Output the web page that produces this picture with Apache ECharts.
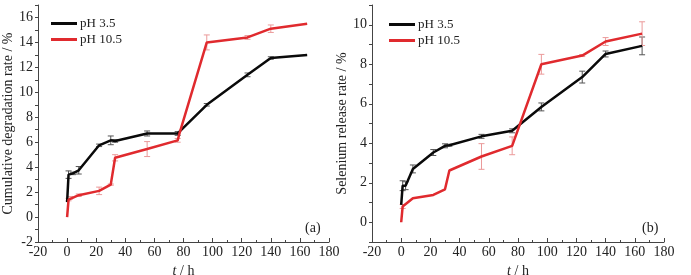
<!DOCTYPE html>
<html>
<head>
<meta charset="utf-8">
<script src="https://cdn.jsdelivr.net/npm/echarts@6/dist/echarts.min.js"></script>
<style>
  html, body { margin: 0; padding: 0; background: #fff; }
  #main { width: 691px; height: 275px; }
</style>
</head>
<body>
<div id="main"></div>
<script>
// (a) cumulative degradation rate
var t_a = [0, 1, 4, 8, 22, 30, 33, 55, 76, 96, 124, 140, 165];
var a_ph35 = [1.2, 3.4, 3.5, 3.75, 5.75, 6.15, 6.1, 6.7, 6.7, 9.0, 11.4, 12.75, 13.0];
var a_ph35_err = [0, 0.3, 0.1, 0.3, 0.1, 0.35, 0.1, 0.2, 0.15, 0.1, 0.15, 0.1, 0];
var t_a_red = [0, 1, 2, 8, 22, 30, 33, 55, 76, 77, 96, 124, 140, 165];
var a_ph105 = [0, 1.4, 1.55, 1.75, 2.1, 2.6, 4.75, 5.45, 6.15, 6.6, 14.0, 14.4, 15.1, 15.5];
var a_ph105_err = [0, 0.1, 0.1, 0.1, 0.3, 0.05, 0.25, 0.6, 0.15, 0, 0.6, 0.15, 0.3, 0];

// (b) selenium release rate
var t_b = [0, 1, 3, 8, 22, 30, 33, 55, 76, 96, 124, 140, 165];
var b_ph35 = [0.88, 1.85, 1.85, 2.7, 3.53, 3.87, 3.9, 4.35, 4.63, 5.84, 7.35, 8.52, 8.93];
var b_ph35_err = [0, 0.25, 0.2, 0.2, 0.15, 0.1, 0.05, 0.1, 0.1, 0.2, 0.3, 0.15, 0.45];
var t_b_red = [0, 1, 8, 22, 30, 33, 55, 76, 96, 124, 140, 165];
var b_ph105 = [0, 0.8, 1.22, 1.38, 1.67, 2.62, 3.33, 3.87, 8.0, 8.44, 9.15, 9.55];
var b_ph105_err = [0, 0.1, 0, 0, 0, 0, 0.65, 0.45, 0.5, 0.05, 0.2, 0.6];

var xTicks = { min: -20, max: 180, interval: 20 };

var chart = echarts.init(document.getElementById('main'));
var font = "'Liberation Serif', 'Times New Roman', serif";

function pairs(t, v) {
  var out = [];
  for (var i = 0; i < t.length; i++) out.push([t[i], v[i]]);
  return out;
}
function errData(t, v, e) {
  var out = [];
  for (var i = 0; i < t.length; i++) if (e[i] > 0) out.push([t[i], v[i] - e[i], v[i] + e[i]]);
  return out;
}
function errSeries(idx, data, color) {
  return {
    type: 'custom', xAxisIndex: idx, yAxisIndex: idx, silent: true, z: 1,
    data: data,
    renderItem: function (params, api) {
      var lo = api.coord([api.value(0), api.value(1)]);
      var hi = api.coord([api.value(0), api.value(2)]);
      var w = 3;
      var st = { stroke: color, lineWidth: 1 };
      return {
        type: 'group',
        children: [
          { type: 'line', shape: { x1: lo[0], y1: lo[1], x2: hi[0], y2: hi[1] }, style: st },
          { type: 'line', shape: { x1: lo[0] - w, y1: lo[1], x2: lo[0] + w, y2: lo[1] }, style: st },
          { type: 'line', shape: { x1: hi[0] - w, y1: hi[1], x2: hi[0] + w, y2: hi[1] }, style: st }
        ]
      };
    }
  };
}
function xAxis(idx) {
  return {
    type: 'value', gridIndex: idx, min: xTicks.min, max: xTicks.max, interval: xTicks.interval,
    name: '{i|t} / h', nameLocation: 'middle', nameGap: 17,
    nameTextStyle: { fontFamily: font, fontSize: 14, color: '#222',
      rich: { i: { fontStyle: 'italic', fontFamily: font, fontSize: 14, color: '#222' } } },
    axisLine: { show: true, onZero: false, lineStyle: { color: '#444', width: 1 } },
    axisTick: { show: true, inside: true, length: 4, lineStyle: { color: '#444' } },
    minorTick: { show: true, splitNumber: 2, length: 2, lineStyle: { color: '#444' } },
    splitLine: { show: false },
    axisLabel: { fontFamily: font, fontSize: 14, color: '#222', margin: 3 }
  };
}
function yAxis(idx, min, max, name) {
  return {
    type: 'value', gridIndex: idx, min: min, max: max, interval: 1,
    name: name, nameLocation: 'middle', nameGap: idx === 0 ? 22 : 19,
    nameTextStyle: { fontFamily: font, fontSize: 14, color: '#222' },
    axisLine: { show: true, onZero: false, lineStyle: { color: '#444', width: 1 } },
    axisTick: { show: true, inside: false, length: 3, lineStyle: { color: '#444' } },
    splitLine: { show: false },
    axisLabel: {
      fontFamily: font, fontSize: 14, color: '#222', margin: 5,
      formatter: function (v) { return v % 2 === 0 ? String(v) : ''; }
    }
  };
}
function lineSeries(name, idx, data, color) {
  return {
    name: name, type: 'line', xAxisIndex: idx, yAxisIndex: idx, z: 3,
    data: data, symbol: 'none', lineStyle: { color: color, width: 2.5 },
    itemStyle: { color: color }
  };
}

var black = '#0a0a0a', red = '#e02a2e';
var option = {
  animation: false,
  backgroundColor: '#fff',
  grid: [
    { left: 38, right: 362, top: 5, bottom: 33, outerBoundsMode: 'none', containLabel: false },
    { left: 372, right: 27, top: 5, bottom: 33, outerBoundsMode: 'none', containLabel: false }
  ],
  xAxis: [xAxis(0), xAxis(1)],
  yAxis: [
    yAxis(0, -2, 17, 'Cumulative degradation rate / %'),
    yAxis(1, -1, 11, 'Selenium release rate / %')
  ],
  legend: [
    { left: 46, top: 12, orient: 'vertical', itemGap: 3, itemWidth: 26, itemHeight: 3, icon: 'rect',
      data: ['pH 3.5', 'pH 10.5'], textStyle: { fontFamily: font, fontSize: 13, color: '#222', padding: [0, 0, 0, -2] } },
    { left: 384, top: 13, orient: 'vertical', itemGap: 3, itemWidth: 26, itemHeight: 3, icon: 'rect',
      data: ['pH 3.5', 'pH 10.5'], textStyle: { fontFamily: font, fontSize: 13, color: '#222', padding: [0, 0, 0, -2] } }
  ],
  graphic: [
    { type: 'text', left: 305, top: 221, style: { text: '(a)', font: '14px ' + font, fill: '#222' } },
    { type: 'text', left: 642, top: 221, style: { text: '(b)', font: '14px ' + font, fill: '#222' } }
  ],
  series: [
    errSeries(0, errData(t_a, a_ph35, a_ph35_err), '#555'),
    errSeries(0, errData(t_a_red, a_ph105, a_ph105_err), '#eb9a9a'),
    lineSeries('pH 3.5', 0, pairs(t_a, a_ph35), black),
    lineSeries('pH 10.5', 0, pairs(t_a_red, a_ph105), red),
    errSeries(1, errData(t_b, b_ph35, b_ph35_err), '#555'),
    errSeries(1, errData(t_b_red, b_ph105, b_ph105_err), '#eb9a9a'),
    lineSeries('pH 3.5', 1, pairs(t_b, b_ph35), black),
    lineSeries('pH 10.5', 1, pairs(t_b_red, b_ph105), red)
  ]
};
chart.setOption(option);
</script>
</body>
</html>
